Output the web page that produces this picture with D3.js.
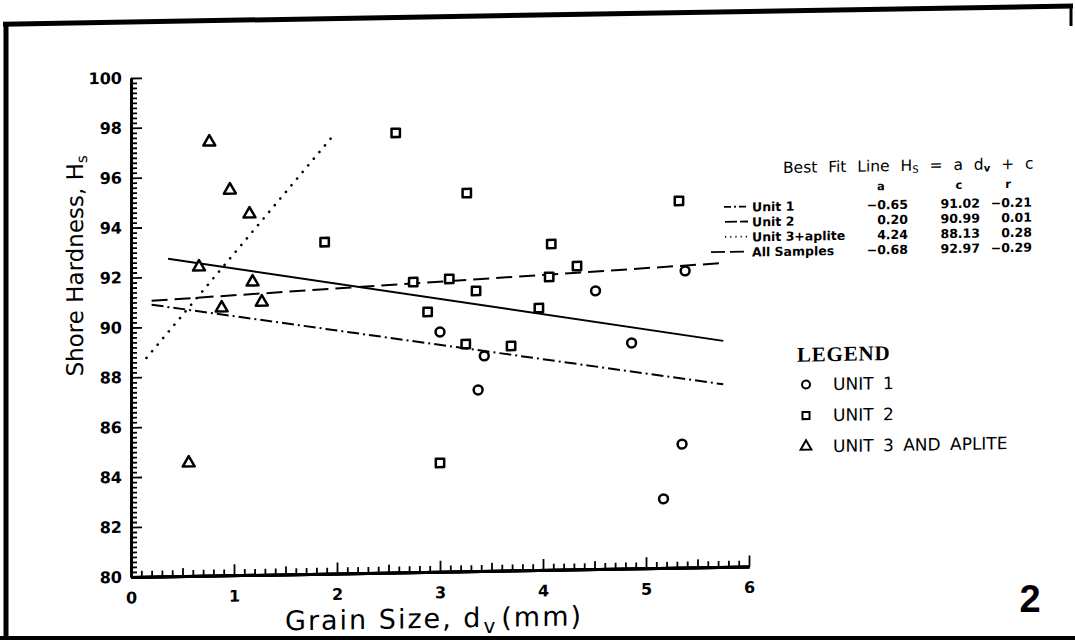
<!DOCTYPE html>
<html><head><meta charset="utf-8">
<script src="https://cdn.jsdelivr.net/npm/d3@7"></script>
<style>body{margin:0;background:#fff}svg{display:block}</style>
</head><body>
<svg id="chart" width="1075" height="640"></svg>
<script>
// ---- data ----
const xTickValues = [0, 1, 2, 3, 4, 5, 6];
const yTickValues = [80, 82, 84, 86, 88, 90, 92, 94, 96, 98, 100];

const unit1X = [5.38, 4.51, 3.00, 4.86, 3.43, 3.37, 5.35, 5.17];
const unit1Y = [91.89, 91.15, 89.61, 89.04, 88.62, 87.26, 84.95, 82.77];

const unit2X = [1.88, 2.57, 3.26, 5.32, 4.08, 4.33, 4.06, 3.09, 2.74, 3.35, 2.88, 3.96, 3.25, 3.69, 3.00];
const unit2Y = [93.29, 97.62, 95.16, 94.70, 93.06, 92.16, 91.74, 91.73, 91.63, 91.23, 90.42, 90.50, 89.11, 89.00, 84.36];

const unit3X = [0.56, 0.76, 0.96, 1.15, 0.66, 1.18, 1.27, 0.88];
const unit3Y = [84.53, 97.38, 95.44, 94.47, 92.38, 91.74, 90.93, 90.72];

const fitNames = ["Unit 1", "Unit 2", "Unit 3+aplite", "All Samples"];
const fitA = [-0.65, 0.20, 4.24, -0.68];
const fitC = [91.02, 90.99, 88.13, 92.97];
const fitR = [-0.21, 0.01, 0.28, -0.29];
// drawn fit-line end points
const fitX0 = [0.20, 0.20, 0.15, 0.36];
const fitY0 = [90.90, 91.06, 88.77, 92.73];
const fitX1 = [5.75, 5.75, 1.96, 5.75];
const fitY1 = [87.32, 92.18, 97.54, 89.06];

const legendLabels = ["UNIT 1", "UNIT 2", "UNIT 3 AND APLITE"];

// ---- drawing ----
const svg = d3.select("#chart");
const skewT = 0.017;
const g = svg.append("g")
  .attr("transform", `translate(131,0) skewY(${-Math.atan(skewT) * 180 / Math.PI}) translate(-131,0)`);

const x = d3.scaleLinear().domain([0, 6]).range([131, 749]);
const y = d3.scaleLinear().domain([80, 100]).range([577, 78]);

const ink = "#000";
const numFont = "'DejaVu Sans', sans-serif";

// frame
g.append("line").attr("x1", 3).attr("x2", 1073).attr("y1", 22).attr("y2", 22)
  .attr("stroke", ink).attr("stroke-width", 5);
g.append("line").attr("x1", 6).attr("x2", 6).attr("y1", 20).attr("y2", 660)
  .attr("stroke", ink).attr("stroke-width", 5);
g.append("line").attr("x1", 1071).attr("x2", 1071).attr("y1", 20).attr("y2", 42)
  .attr("stroke", ink).attr("stroke-width", 3);
svg.append("line").attr("x1", 0).attr("x2", 1075).attr("y1", 638).attr("y2", 638)
  .attr("stroke", ink).attr("stroke-width", 4);

// x axis: minor / mid / major ticks pointing up
const xMinor = d3.range(0, 60).map(i => i / 10).filter(v => Math.round(v * 10) % 5 !== 0);
const xMid = d3.range(0, 6).map(i => i + 0.5);
const axX = g.append("g").attr("transform", `translate(0,${y(80)})`);
axX.append("g").call(d3.axisBottom(x).tickValues(xMinor).tickSizeInner(-6).tickSizeOuter(0).tickFormat(""));
axX.append("g").call(d3.axisBottom(x).tickValues(xMid).tickSizeInner(-8).tickSizeOuter(0).tickFormat(""));
axX.append("g").call(d3.axisBottom(x).tickValues(xTickValues).tickSizeInner(-11).tickSizeOuter(0).tickPadding(15).tickFormat(d3.format("d")));

// y axis: minor / major ticks pointing right
const yMinor = d3.range(0, 100).map(i => 80 + i * 0.2).filter(v => Math.abs(v - Math.round(v)) > 0.01 || Math.round(v) % 2 === 1);
const axY = g.append("g").attr("transform", `translate(${x(0)},0)`);
axY.append("g").call(d3.axisLeft(y).tickValues(yMinor).tickSizeInner(-6).tickSizeOuter(0).tickFormat(""));
axY.append("g").call(d3.axisLeft(y).tickValues(yTickValues).tickSizeInner(-11).tickSizeOuter(0).tickPadding(9).tickFormat(d3.format("d")));

[axX, axY].forEach(a => {
  a.selectAll(".domain").attr("stroke", ink).attr("stroke-width", 3);
  a.selectAll(".tick line").attr("stroke", ink).attr("stroke-width", 1.8);
  a.selectAll(".tick text").attr("fill", ink).attr("font-family", numFont)
    .attr("font-weight", "bold").attr("font-size", 16);
});

// axis titles
g.append("text").attr("x", 285).attr("y", 633)
  .attr("font-family", numFont).attr("font-size", 27).attr("letter-spacing", 2).attr("fill", ink)
  .call(t => {
    t.append("tspan").text("Grain Size, d");
    t.append("tspan").attr("dy", 6).attr("dx", 1).attr("font-size", 20).text("v");
    t.append("tspan").attr("dy", -6).attr("dx", 4).text("(mm)");
  });
g.append("text").attr("transform", "translate(83,265) rotate(-90)").attr("text-anchor", "middle")
  .attr("font-family", numFont).attr("font-size", 23).attr("fill", ink)
  .call(t => {
    t.append("tspan").text("Shore Hardness, H");
    t.append("tspan").attr("dy", 4).attr("font-size", 15).text("s");
  });

// fit lines
const dashes = ["12,4,2,4", "16,7", "0.1,8.5", null];
const widths = [2, 2, 2.6, 2];
const line = d3.line().x(d => x(d[0])).y(d => y(d[1]));
fitNames.forEach((n, i) => {
  g.append("path")
    .attr("d", line([[fitX0[i], fitY0[i]], [fitX1[i], fitY1[i]]]))
    .attr("fill", "none").attr("stroke", ink).attr("stroke-width", widths[i])
    .attr("stroke-linecap", i === 2 ? "round" : "butt")
    .attr("stroke-dasharray", dashes[i]);
});

// markers
const sym = {
  circle: d3.symbol(d3.symbolCircle, 62),
  square: d3.symbol(d3.symbolSquare, 70),
  triangle: d3.symbol(d3.symbolTriangle, 62)
};
function drawPts(xs, ys, s) {
  g.append("g").selectAll("path").data(xs.map((v, i) => [v, ys[i]])).join("path")
    .attr("d", sym[s]).attr("transform", d => `translate(${x(d[0])},${y(d[1])})`)
    .attr("fill", "#fff").attr("stroke", ink).attr("stroke-width", 2.5)
    .attr("stroke-linejoin", "round");
}
drawPts(unit1X, unit1Y, "circle");
drawPts(unit2X, unit2Y, "square");
drawPts(unit3X, unit3Y, "triangle");

// best-fit table
g.append("text").attr("x", 783).attr("y", 184).attr("font-family", numFont)
  .attr("font-size", 15.5).attr("word-spacing", 6).attr("fill", ink)
  .call(t => {
    t.append("tspan").text("Best Fit Line H");
    t.append("tspan").attr("dy", 2).attr("font-size", 10).text("S");
    t.append("tspan").attr("dy", -2).text(" = a d");
    t.append("tspan").attr("dy", 2).attr("font-size", 10).attr("font-weight", "bold").text("v");
    t.append("tspan").attr("dy", -2).text(" + c");
  });
const hdr = ["a", "c", "r"], hdrX = [881, 959, 1008];
hdr.forEach((h, i) => g.append("text").attr("x", hdrX[i]).attr("y", 203).attr("text-anchor", "middle")
  .attr("font-family", numFont).attr("font-weight", "bold").attr("font-size", 11.5).attr("fill", ink).text(h));
const f2 = d3.format(".2f");
const sampleDash = ["7,3,2,3", "12,3", "1.2,4", "14,5"];
const sampleX0 = [724, 725, 725, 711];
fitNames.forEach((n, i) => {
  const by = 222 + i * 15;
  g.append("line").attr("x1", sampleX0[i]).attr("x2", 748).attr("y1", by - 5).attr("y2", by - 5)
    .attr("stroke", ink).attr("stroke-width", 1.8).attr("stroke-dasharray", sampleDash[i]);
  const row = g.append("g").attr("font-family", numFont).attr("font-weight", "bold")
    .attr("font-size", 12.5).attr("fill", ink);
  row.append("text").attr("x", 752).attr("y", by).text(n);
  row.append("text").attr("x", 908).attr("y", by).attr("text-anchor", "end").text(f2(fitA[i]));
  row.append("text").attr("x", 980).attr("y", by).attr("text-anchor", "end").text(f2(fitC[i]));
  row.append("text").attr("x", 1032).attr("y", by).attr("text-anchor", "end").text(f2(fitR[i]));
});

// legend
g.append("text").attr("x", 797).attr("y", 373).attr("font-family", "'Liberation Serif', serif")
  .attr("font-weight", "bold").attr("font-size", 21).attr("letter-spacing", 0.8).attr("fill", ink).text("LEGEND");
const legSym = [d3.symbolCircle, d3.symbolSquare, d3.symbolTriangle];
legendLabels.forEach((l, i) => {
  const cy = 396 + i * 31;
  g.append("path").attr("d", d3.symbol(legSym[i], 50))
    .attr("transform", `translate(806,${cy})`).attr("fill", "#fff").attr("stroke", ink).attr("stroke-width", 2);
  g.append("text").attr("x", 833).attr("y", cy + 6).attr("font-family", numFont)
    .attr("font-size", 17).attr("word-spacing", 4).attr("fill", ink).text(l);
});

// figure number
svg.append("text").attr("x", 1030).attr("y", 612).attr("text-anchor", "middle")
  .attr("font-family", "'Liberation Sans', Arial, sans-serif").attr("font-weight", "bold")
  .attr("font-size", 38).attr("fill", ink).text("2");
</script>
</body></html>
